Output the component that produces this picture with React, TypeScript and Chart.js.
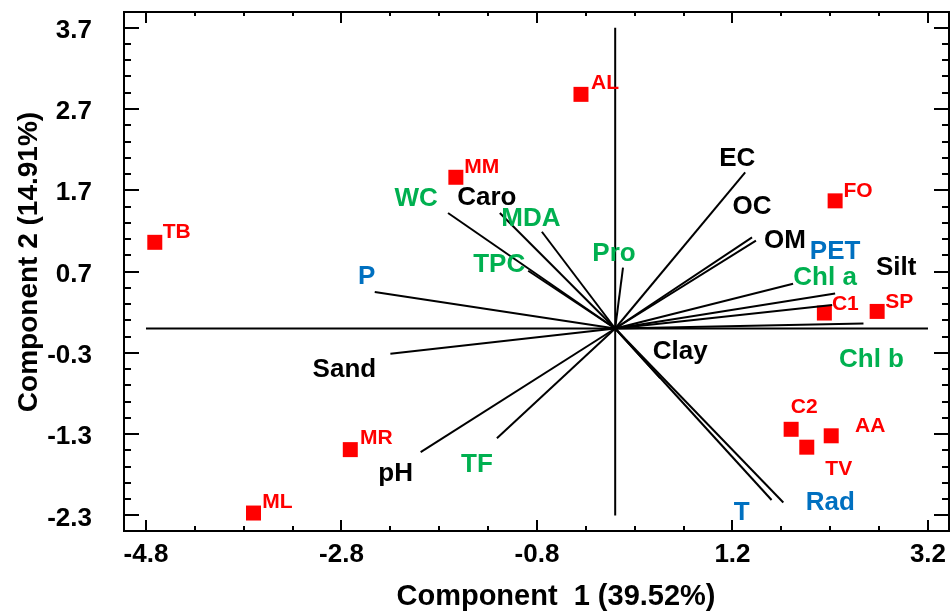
import React, { useEffect, useRef } from "react";
import { Chart, registerables } from "chart.js";

Chart.register(...registerables);

// ---- Data ----
const sampleNames = ["TB", "AL", "MM", "FO", "C1", "SP", "C2", "AA", "TV", "MR", "ML"];
const sampleX = [-4.71, -0.35, -1.63, 2.25, 2.14, 2.68, 1.8, 2.21, 1.96, -2.71, -3.7];
const sampleY = [1.06, 2.88, 1.86, 1.57, 0.19, 0.21, -1.24, -1.32, -1.46, -1.49, -2.27];

const variableNames = [
  "EC", "OC", "OM", "PET", "Chl a", "Silt", "Chl b", "Clay", "T", "Rad",
  "pH", "TF", "Sand", "P", "TPC", "WC", "Caro", "MDA", "Pro",
];
const loadingX = [1.33, 1.4, 1.44, 2.25, 1.82, 2.22, 2.54, 0.46, 1.6, 1.72, -1.99, -1.21, -2.3, -2.46, -0.89, -1.71, -1.18, -0.75, 0.08];
const loadingY = [1.92, 1.12, 1.08, 0.43, 0.55, 0.29, 0.06, -0.61, -2.11, -2.14, -1.52, -1.35, -0.31, 0.45, 0.71, 1.42, 1.42, 1.19, 0.75];

const xTickValues = [-4.8, -2.8, -0.8, 1.2, 3.2];
const yTickValues = [-2.3, -1.3, -0.3, 0.7, 1.7, 2.7, 3.7];
const xTitle = "Component  1 (39.52%)";
const yTitle = "Component 2 (14.91%)";

// ---- Styles / layout (not data) ----
const RED = "#ff0000";
const GREEN = "#00b050";
const BLUE = "#0070c0";
const BLACK = "#000000";
const variableColor: Record<string, string> = {
  EC: BLACK, OC: BLACK, OM: BLACK, PET: BLUE, "Chl a": GREEN, Silt: BLACK,
  "Chl b": GREEN, Clay: BLACK, T: BLUE, Rad: BLUE, pH: BLACK, TF: GREEN,
  Sand: BLACK, P: BLUE, TPC: GREEN, WC: GREEN, Caro: BLACK, MDA: GREEN, Pro: GREEN,
};
// pixel offsets of label centre from vector tip
const variableLabelOffset: Record<string, [number, number]> = {
  EC: [-8, -14], OC: [0, -31], OM: [29, 0], PET: [0, -42], "Chl a": [32, -6],
  Silt: [64, -37], "Chl b": [8, 36], Clay: [20, -26], T: [-30, 13], Rad: [47, 0],
  pH: [-25, 22], TF: [-20, 27], Sand: [-46, 16], P: [-8, -15], TPC: [-29, -6],
  WC: [-32, -14], Caro: [-13, -15], MDA: [-11, -13], Pro: [-9, -14],
};
const sampleLabelOffset: Record<string, [number, number]> = {
  TB: [22, -10], AL: [24, -11], MM: [26, -10], FO: [23, -10], C1: [21, -9],
  SP: [22, -9], C2: [13, -22], AA: [39, -10], TV: [32, 22], MR: [26, -11], ML: [24, -11],
};

const FONT = '"Liberation Sans", Arial, Helvetica, sans-serif';

const overlayPlugin = {
  id: "overlay",
  afterDraw(chart: any) {
    const { ctx, chartArea } = chart;
    const xs = chart.scales.x;
    const ys = chart.scales.y;
    const { left, right, top, bottom } = chartArea;
    ctx.save();
    ctx.strokeStyle = "#000";
    ctx.lineWidth = 2;
    ctx.lineCap = "butt";
    // frame
    ctx.strokeRect(left, top, right - left, bottom - top);
    // x ticks
    const xMin = xTickValues[0];
    const xMax = xTickValues[xTickValues.length - 1];
    for (let i = 0; i <= Math.round((xMax - xMin) / 0.5); i++) {
      const v = xMin + i * 0.5;
      const px = Math.round(xs.getPixelForValue(v));
      const major = i % 4 === 0;
      ctx.beginPath();
      ctx.moveTo(px, bottom);
      ctx.lineTo(px, bottom - (major ? 11 : 5));
      ctx.moveTo(px, top);
      ctx.lineTo(px, top + (major ? 11 : 4));
      ctx.stroke();
    }
    // y ticks
    const yMin = yTickValues[0];
    const yMax = yTickValues[yTickValues.length - 1];
    for (let i = 0; i <= Math.round((yMax - yMin) / 0.2); i++) {
      const v = yMin + i * 0.2;
      const py = Math.round(ys.getPixelForValue(v));
      const major = i % 5 === 0;
      ctx.beginPath();
      ctx.moveTo(left, py);
      ctx.lineTo(left + (major ? 15 : 7), py);
      ctx.moveTo(right, py);
      ctx.lineTo(right - (major ? 15 : 7), py);
      ctx.stroke();
    }
    // tick labels
    ctx.fillStyle = "#000";
    ctx.font = `bold 26px ${FONT}`;
    ctx.textBaseline = "middle";
    ctx.textAlign = "right";
    yTickValues.forEach((v) => {
      ctx.fillText(v.toFixed(1), left - 32, ys.getPixelForValue(v) + 3);
    });
    ctx.textAlign = "center";
    xTickValues.forEach((v) => {
      ctx.fillText(v.toFixed(1), xs.getPixelForValue(v), 555);
    });
    // axis titles
    ctx.font = `bold 29px ${FONT}`;
    ctx.fillText(xTitle, 556, 597);
    ctx.font = `bold 28px ${FONT}`;
    ctx.save();
    ctx.translate(29, 262);
    ctx.rotate(-Math.PI / 2);
    ctx.fillText(yTitle, 0, 0);
    ctx.restore();
    // variable labels
    ctx.font = `bold 26px ${FONT}`;
    variableNames.forEach((n, i) => {
      const off = variableLabelOffset[n] || [0, 0];
      ctx.fillStyle = variableColor[n] || "#000";
      ctx.fillText(n, xs.getPixelForValue(loadingX[i]) + off[0], ys.getPixelForValue(loadingY[i]) + off[1]);
    });
    // sample labels
    ctx.font = `bold 21px ${FONT}`;
    ctx.fillStyle = RED;
    sampleNames.forEach((n, i) => {
      const off = sampleLabelOffset[n] || [0, 0];
      ctx.fillText(n, xs.getPixelForValue(sampleX[i]) + off[0], ys.getPixelForValue(sampleY[i]) + off[1]);
    });
    ctx.restore();
  },
};

export default function App() {
  const ref = useRef<HTMLCanvasElement | null>(null);
  useEffect(() => {
    if (!ref.current) return;
    const datasets: any[] = [];
    // reference cross lines through origin
    datasets.push({
      data: [{ x: xTickValues[0], y: 0 }, { x: xTickValues[xTickValues.length - 1], y: 0 }],
      showLine: true, borderColor: "#000", borderWidth: 2, pointRadius: 0,
    });
    datasets.push({
      data: [{ x: 0, y: yTickValues[yTickValues.length - 1] }, { x: 0, y: yTickValues[0] }],
      showLine: true, borderColor: "#000", borderWidth: 2, pointRadius: 0,
    });
    variableNames.forEach((n, i) => {
      datasets.push({
        label: n,
        data: [{ x: 0, y: 0 }, { x: loadingX[i], y: loadingY[i] }],
        showLine: true, borderColor: "#000", borderWidth: 2, pointRadius: 0,
      });
    });
    datasets.push({
      label: "samples",
      data: sampleX.map((x, i) => ({ x, y: sampleY[i] })),
      pointStyle: "rect", pointRadius: 10.6, backgroundColor: RED, borderWidth: 0,
      showLine: false,
    });
    const chart = new Chart(ref.current, {
      type: "scatter",
      data: { datasets },
      options: {
        responsive: false,
        animation: false,
        devicePixelRatio: 1,
        layout: { autoPadding: false, padding: { left: 124, top: 12, right: 1, bottom: 84 } },
        plugins: { legend: { display: false }, tooltip: { enabled: false } },
        scales: {
          x: { type: "linear", min: -5.025, max: 3.415, display: false },
          y: { type: "linear", min: -2.491, max: 3.893, display: false },
        },
      },
      plugins: [overlayPlugin],
    });
    return () => chart.destroy();
  }, []);
  return (
    <div style={{ position: "fixed", left: 0, top: 0, width: 950, height: 615, background: "#fff" }}>
      <canvas ref={ref} width={950} height={615} />
    </div>
  );
}
